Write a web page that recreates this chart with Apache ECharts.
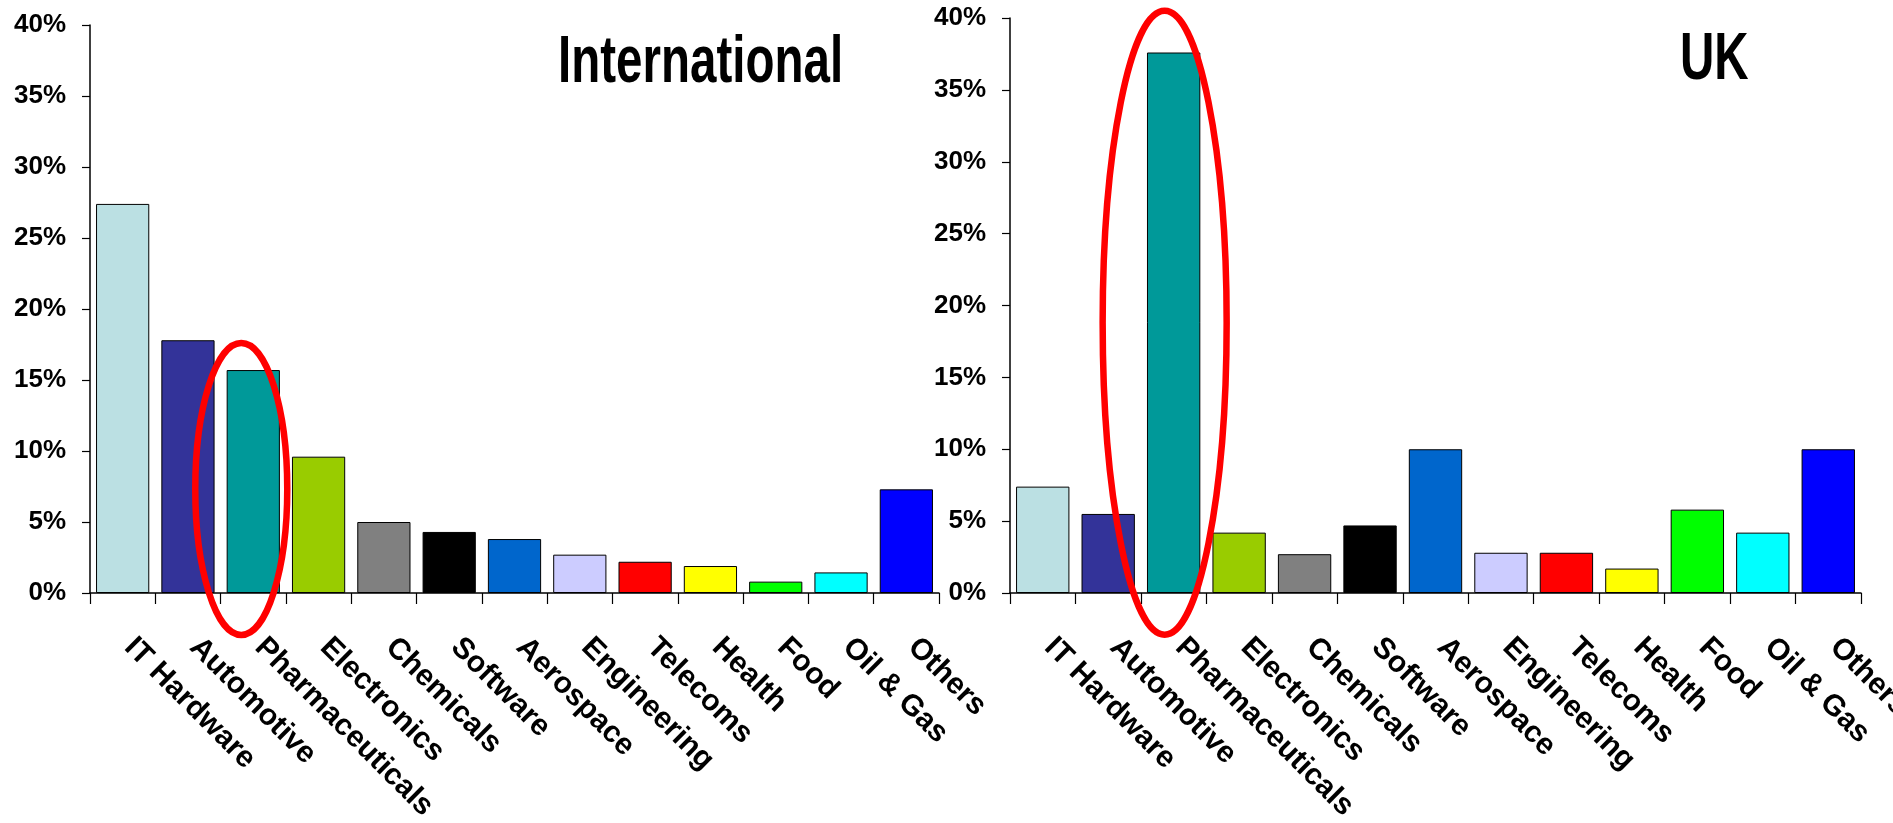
<!DOCTYPE html>
<html>
<head>
<meta charset="utf-8">
<script src="https://cdn.jsdelivr.net/npm/echarts@6/dist/echarts.min.js"></script>
<style>
html,body{margin:0;padding:0;background:#fff;}
#c{width:1893px;height:823px;}
</style>
</head>
<body>
<div id="c"></div>
<script>
const categories = ['IT Hardware','Automotive','Pharmaceuticals','Electronics','Chemicals','Software','Aerospace','Engineering','Telecoms','Health','Food','Oil & Gas','Others'];
const intlValues = [27.4,17.8,15.7,9.6,5.0,4.3,3.8,2.7,2.2,1.9,0.8,1.45,7.3];
const ukValues = [7.4,5.5,37.6,4.2,2.7,4.7,10.0,2.8,2.8,1.7,5.8,4.2,10.0];
const barColors = ['#BBE0E3','#333399','#009999','#99CC00','#808080','#000000','#0066CC','#CCCCFF','#FF0000','#FFFF00','#00FF00','#00FFFF','#0000FF'];
const titles = ['International','UK'];

const font = "'Liberation Sans',Arial,sans-serif";

const chart = echarts.init(document.getElementById('c'), null, {renderer:'canvas'});

function xAxis(gi){
  return {
    type:'category', gridIndex:gi, data:categories,
    axisLine:{show:true, lineStyle:{color:'#000', width:1.5}},
    axisTick:{show:true, interval:0, length:11, lineStyle:{color:'#000', width:1.2}},
    axisLabel:{interval:0, rotate:-45, margin:56, verticalAlign:'bottom', lineHeight:18, color:'#000', fontWeight:'bold', fontSize:30, fontFamily:font, hideOverlap:false},
    splitLine:{show:false}
  };
}
function yAxis(gi){
  return {
    type:'value', gridIndex:gi, min:0, max:40, interval:5,
    axisLine:{show:true, lineStyle:{color:'#000', width:1.5}},
    axisTick:{show:true, length:8, lineStyle:{color:'#000', width:1.2}},
    axisLabel:{formatter:'{value}%', margin:24, color:'#000', fontWeight:'bold', fontSize:26, fontFamily:font},
    splitLine:{show:false}
  };
}
function barData(vals){
  return vals.map((v,i)=>({value:v, itemStyle:{color:barColors[i]}}));
}

chart.setOption({
  animation:false,
  backgroundColor:'#fff',
  grid:[
    {left:90, right:954, top:25, bottom:230, containLabel:false, outerBoundsMode:'none'},
    {left:1010, right:32, top:18, bottom:230, containLabel:false, outerBoundsMode:'none'}
  ],
  xAxis:[xAxis(0), xAxis(1)],
  yAxis:[yAxis(0), yAxis(1)],
  series:[
    {type:'bar', xAxisIndex:0, yAxisIndex:0, data:barData(intlValues), barCategoryGap:'18.5%',
     itemStyle:{borderColor:'#000', borderWidth:1}},
    {type:'bar', xAxisIndex:1, yAxisIndex:1, data:barData(ukValues), barCategoryGap:'18.5%',
     itemStyle:{borderColor:'#000', borderWidth:1}}
  ],
  graphic:[
    {id:'t0', type:'text', x:558, y:64, scaleX:0.72, style:{text:titles[0], font:"bold 66px 'Liberation Sans', Arial, sans-serif", fill:'#000', textAlign:'left', textVerticalAlign:'middle'}},
    {id:'t1', type:'text', x:1680, y:61, scaleX:0.72, style:{text:titles[1], font:"bold 66px 'Liberation Sans', Arial, sans-serif", fill:'#000', textAlign:'left', textVerticalAlign:'middle'}}
  ]
});

// highlight ellipses around the Pharmaceuticals bar, placed through the axes
function ellipseFor(gi, topVal, botVal, dx, rx){
  const c = chart.convertToPixel({gridIndex:gi}, [categories[2], 0]);
  const top = chart.convertToPixel({gridIndex:gi}, [categories[2], topVal])[1];
  const bot = chart.convertToPixel({gridIndex:gi}, [categories[2], botVal])[1];
  return {cx:c[0]+dx, cy:(top+bot)/2, rx:rx, ry:(bot-top)/2};
}
const e0 = ellipseFor(0, 17.6, -2.95, -12, 46);
const e1 = ellipseFor(1, 40.5, -2.9, -9, 62);
chart.setOption({
  graphic:[
    {id:'e0', type:'ellipse', shape:e0, z:100, style:{fill:'none', stroke:'#FF0000', lineWidth:6.5}},
    {id:'e1', type:'ellipse', shape:e1, z:100, style:{fill:'none', stroke:'#FF0000', lineWidth:6.5}}
  ]
});
</script>
</body>
</html>
